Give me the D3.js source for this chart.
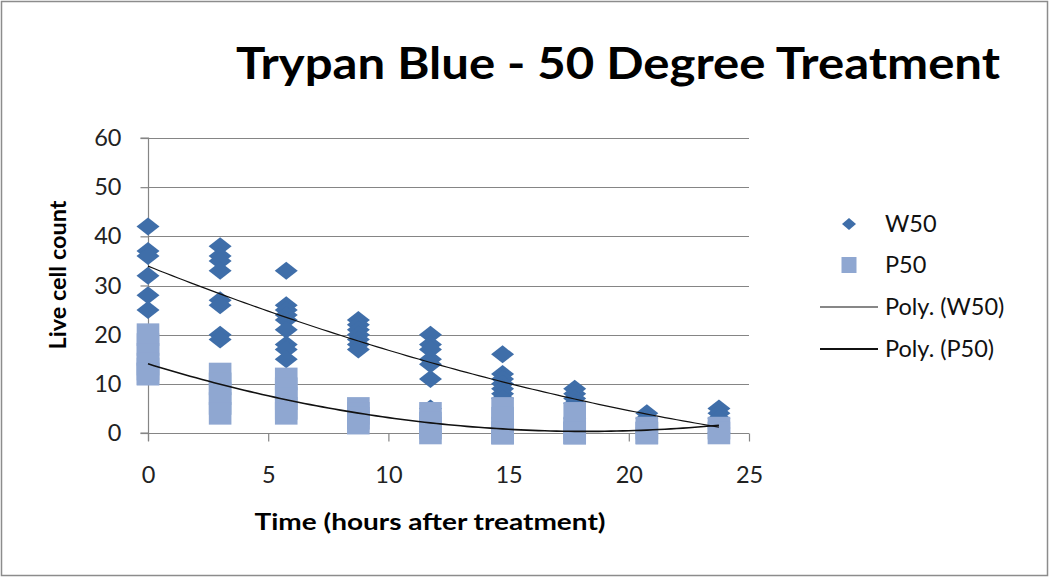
<!DOCTYPE html>
<html>
<head>
<meta charset="utf-8">
<script src="https://cdn.jsdelivr.net/npm/d3@7"></script>
<style>
  html, body { margin: 0; padding: 0; background: #fff; }
  svg { display: block; }
  text { font-family: Lato, "Open Sans", "DejaVu Sans", sans-serif; }
</style>
</head>
<body>
<svg id="chart" width="1050" height="578"></svg>
<script>
// ---- Data ----
const times = [0, 3, 5.75, 8.75, 11.75, 14.75, 17.75, 20.75, 23.75];
const w50Values = [
  [42, 37, 36, 32, 28, 25],
  [38, 36, 35, 33, 27, 26, 20, 19],
  [33, 26, 25, 24, 23, 21, 18, 17, 15],
  [23, 22, 21, 20, 19, 18, 17],
  [20, 18, 17, 15, 14, 11, 5],
  [16, 12, 11, 10, 9, 8, 7],
  [9, 8, 7, 6, 3],
  [4, 3, 1, 0],
  [5, 4, 3, 1, 0, 0]
];
const p50Values = [
  [20, 18, 16, 14, 13, 12, 12],
  [12, 10, 8, 6, 4],
  [11, 9, 7, 5, 4],
  [5, 4, 3, 2],
  [4, 2, 1, 0],
  [5, 3, 1, 0, 0, 0],
  [4, 1, 0, 0, 0],
  [1, 0, 0],
  [1, 0]
];
const xTicks = [0, 5, 10, 15, 20, 25];
const yTicks = [0, 10, 20, 30, 40, 50, 60];
const seriesNames = ["W50", "P50", "Poly. (W50)", "Poly. (P50)"];
const titleText = "Trypan Blue - 50 Degree Treatment";
const xTitle = "Time (hours after treatment)";
const yTitle = "Live cell count";

// ---- Helpers ----
function flatten(vals) {
  const pts = [];
  vals.forEach((arr, i) => arr.forEach(v => pts.push({x: times[i], y: v})));
  return pts;
}
// least-squares quadratic fit (Excel "Polynomial, order 2" trendline)
function quadFit(pts) {
  let S = [0,0,0,0,0], T = [0,0,0];
  pts.forEach(p => {
    for (let k = 0; k < 5; k++) S[k] += Math.pow(p.x, k);
    for (let k = 0; k < 3; k++) T[k] += p.y * Math.pow(p.x, k);
  });
  const A = [[S[0],S[1],S[2],T[0]],[S[1],S[2],S[3],T[1]],[S[2],S[3],S[4],T[2]]];
  for (let i = 0; i < 3; i++) {
    for (let j = i + 1; j < 3; j++) {
      const f = A[j][i] / A[i][i];
      for (let k = i; k < 4; k++) A[j][k] -= f * A[i][k];
    }
  }
  const c = [0,0,0];
  for (let i = 2; i >= 0; i--) {
    let s = A[i][3];
    for (let k = i + 1; k < 3; k++) s -= A[i][k] * c[k];
    c[i] = s / A[i][i];
  }
  return x => c[0] + c[1]*x + c[2]*x*x;
}

const wPts = flatten(w50Values);
const pPts = flatten(p50Values);

const svg = d3.select("#chart");
const colW = "#3F6EA9", colP = "#8FA7D1", gridCol = "#858585";

// outer border
svg.append("rect").attr("x", 1.5).attr("y", 1.5).attr("width", 1046).attr("height", 574)
  .attr("fill", "#fff").attr("stroke", "#8c8c8c").attr("stroke-width", 1.5);

const x = d3.scaleLinear().domain([0, 25]).range([148, 749]);
const y = d3.scaleLinear().domain([0, 60]).range([433, 138]);

// gridlines
svg.append("g").selectAll("line").data(yTicks.filter(t => t > 0)).join("line")
  .attr("x1", x(0)).attr("x2", x(25))
  .attr("y1", d => Math.round(y(d)) + 0.5).attr("y2", d => Math.round(y(d)) + 0.5)
  .attr("stroke", gridCol).attr("stroke-width", 1.2);

// axes
const yAxis = d3.axisLeft(y).tickValues(yTicks).tickSize(8).tickPadding(19);
const xAxis = d3.axisBottom(x).tickValues(xTicks).tickSize(8).tickPadding(25);
const gy = svg.append("g").attr("transform", `translate(${x(0)+0.5},0)`).call(yAxis);
const gx = svg.append("g").attr("transform", `translate(0,${y(0)+0.5})`).call(xAxis);
[gx, gy].forEach(g => {
  g.select(".domain").attr("stroke", gridCol).attr("stroke-width", 1.2);
  g.selectAll(".tick line").attr("stroke", gridCol).attr("stroke-width", 1.2);
  g.selectAll(".tick text").attr("font-size", 23.5).attr("fill", "#222")
    .attr("font-family", "Lato, 'Open Sans', sans-serif");
});
gy.select(".domain").attr("d", `M-8,${y(60)}H0V${y(0)+8}M-8,${y(0)}H0`);
gx.select(".domain").attr("d", `M${x(0)},0H${x(25)}`);

// W50 diamonds
const diamond = "M0,-9L11.5,0L0,9L-11.5,0Z";
svg.append("g").selectAll("path").data(wPts).join("path")
  .attr("d", diamond)
  .attr("transform", d => `translate(${x(d.x)},${y(d.y)})`)
  .attr("fill", colW);

// P50 squares
const sq = 22.6;
svg.append("g").selectAll("rect").data(pPts).join("rect")
  .attr("x", d => x(d.x) - sq/2).attr("y", d => y(d.y) - sq/2)
  .attr("width", sq).attr("height", sq)
  .attr("fill", colP);

// trendlines
const fw = quadFit(wPts), fp = quadFit(pPts);
const xs = d3.range(0, 23.75 + 1e-9, 0.25);
const line = d3.line().x(d => x(d[0])).y(d => y(d[1]));
svg.append("path").attr("d", line(xs.map(t => [t, fw(t)])))
  .attr("fill", "none").attr("stroke", "#111").attr("stroke-width", 1.2);
svg.append("path").attr("d", line(xs.map(t => [t, fp(t)])))
  .attr("fill", "none").attr("stroke", "#111").attr("stroke-width", 1.6);

// title
svg.append("text").attr("x", 618).attr("y", 79).attr("text-anchor", "middle")
  .attr("font-size", 44).attr("font-weight", "bold").attr("fill", "#000")
  .attr("textLength", 764).attr("lengthAdjust", "spacingAndGlyphs")
  .text(titleText);

// axis titles
svg.append("text").attr("x", 430).attr("y", 530).attr("text-anchor", "middle")
  .attr("font-size", 22).attr("font-weight", "bold").attr("fill", "#000")
  .attr("textLength", 351).attr("lengthAdjust", "spacingAndGlyphs")
  .text(xTitle);
svg.append("text").attr("transform", "translate(66,275) rotate(-90)")
  .attr("text-anchor", "middle")
  .attr("font-size", 22).attr("font-weight", "bold").attr("fill", "#000")
  .attr("textLength", 149).attr("lengthAdjust", "spacingAndGlyphs")
  .text(yTitle);

// legend
const lg = svg.append("g");
const rows = [224, 265, 307, 349];
lg.append("path").attr("d", "M0,-6L7,0L0,6L-7,0Z")
  .attr("transform", `translate(849,${rows[0]})`).attr("fill", colW);
lg.append("rect").attr("x", 841.5).attr("y", rows[1] - 8).attr("width", 15).attr("height", 16)
  .attr("fill", colP);
lg.append("line").attr("x1", 820).attr("x2", 878).attr("y1", rows[2]).attr("y2", rows[2])
  .attr("stroke", "#111").attr("stroke-width", 1.2);
lg.append("line").attr("x1", 820).attr("x2", 878).attr("y1", rows[3]).attr("y2", rows[3])
  .attr("stroke", "#111").attr("stroke-width", 2);
lg.selectAll("text").data(seriesNames).join("text")
  .attr("x", 885).attr("y", (d, i) => rows[i] + 8)
  .attr("font-size", 23.5).attr("fill", "#111")
  .text(d => d);
</script>
</body>
</html>
